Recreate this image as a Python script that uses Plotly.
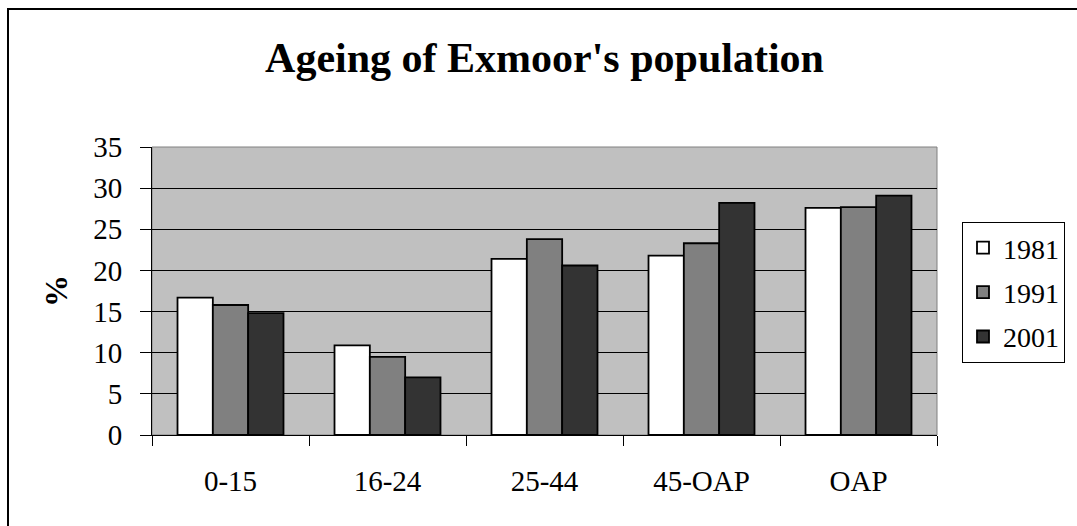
import plotly.graph_objects as go

categories = ["0-15", "16-24", "25-44", "45-OAP", "OAP"]
years = ["1981", "1991", "2001"]
values_1981 = [16.7, 10.9, 21.4, 21.8, 27.6]
values_1991 = [15.8, 9.5, 23.8, 23.3, 27.7]
values_2001 = [14.8, 7.0, 20.6, 28.2, 29.1]
y_ticks = [0, 5, 10, 15, 20, 25, 30, 35]

series = [values_1981, values_1991, values_2001]
colors = ["#ffffff", "#808080", "#333333"]

FONT = "Liberation Serif, Times New Roman, serif"

fig = go.Figure()
for name, vals, col in zip(years, series, colors):
    fig.add_trace(go.Bar(
        x=categories, y=vals, name=name, legendgroup=name,
        marker=dict(color=col, line=dict(color="#000000", width=1.8)),
    ))

L, R, T, B = 152, 140, 147, 91
W, H = 1077, 526
pw, ph = W - L - R, H - T - B

fig.update_layout(
    width=W, height=H,
    margin=dict(l=L, r=R, t=T, b=B, pad=0),
    paper_bgcolor="#ffffff",
    plot_bgcolor="#c0c0c0",
    barmode="group",
    bargap=0.325,
    bargroupgap=0,
    font=dict(family=FONT, size=28, color="#000000"),
    title=dict(
        text="<b>Ageing of Exmoor's population</b>",
        x=0.5, xref="paper", xanchor="center",
        y=1 - 57 / H, yref="container", yanchor="middle",
        font=dict(family=FONT, size=42, color="#000000"),
    ),
    legend=dict(
        x=(962 - L) / pw, xanchor="left",
        y=(435 - 222) / ph, yanchor="top",
        bgcolor="#ffffff",
        bordercolor="#000000", borderwidth=1,
        font=dict(family=FONT, size=28),
        tracegroupgap=5,
        itemwidth=30,
    ),
    showlegend=True,
)

fig.update_xaxes(
    showgrid=False,
    showline=True, linecolor="#000000", linewidth=1,
    ticks="outside", tickson="boundaries", ticklen=10, tickcolor="#000000",
    tickfont=dict(family=FONT, size=29),
    ticklabelstandoff=20,
)
fig.update_yaxes(
    range=[0, 35],
    tickvals=y_ticks,
    showgrid=True, gridcolor="#000000", gridwidth=1,
    showline=True, linecolor="#000000", linewidth=1,
    ticks="outside", ticklen=11, tickcolor="#000000",
    tickfont=dict(family=FONT, size=29),
    ticklabelstandoff=12,
    zeroline=False,
    title=dict(text="<b>%</b>", font=dict(family=FONT, size=32), standoff=16),
)

# plot area border (gray)
fig.add_shape(type="rect", xref="paper", yref="paper", x0=0, x1=1, y0=0, y1=1,
              line=dict(color="#808080", width=1), layer="below")
# outer chart border (only top and left visible)
fig.add_shape(type="rect", xref="paper", yref="paper",
              x0=(8 - L) / pw, x1=(W + 10 - L) / pw,
              y0=(435 - (H + 10)) / ph, y1=(435 - 9) / ph,
              line=dict(color="#000000", width=2), fillcolor="rgba(0,0,0,0)")

fig.write_html("out.html", config={"displayModeBar": False},
               post_script="document.body.style.margin='0';document.body.style.overflow='hidden';")
